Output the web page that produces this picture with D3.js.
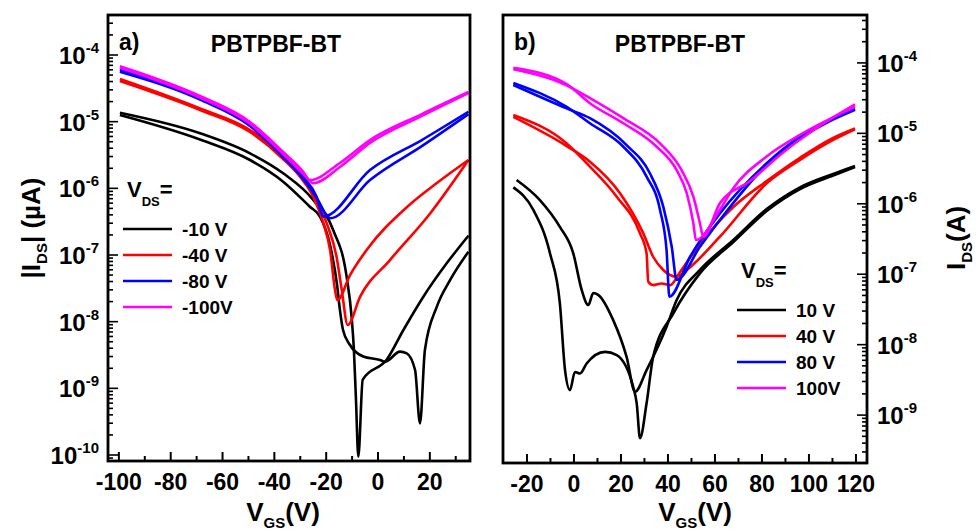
<!DOCTYPE html>
<html>
<head>
<meta charset="utf-8">
<script src="https://cdn.jsdelivr.net/npm/d3@7/dist/d3.min.js"></script>
<style>
body { margin: 0; background: #fff; }
text { font-family: 'Liberation Sans', Arial, sans-serif; font-weight: bold; fill: #000; }
</style>
</head>
<body>
<script>
// ---- panel a) : |I_DS| vs V_GS, negative V_DS (two sweeps per curve) ----
const aBlack1 = [[-99.6,1.36e-5],[-68.7,6.7e-6],[-49.4,3.35e-6],[-36.6,1.68e-6],[-25.0,6.7e-7],[-17.3,2.37e-7],[-12.1,4.7e-8],[-10.2,1.19e-8],[-9.3,3.76e-9],[-8.5,6.7e-10],[-7.6,9.4e-11],[-5.9,1.35e-9],[3.4,2.7e-9],[9.8,7.5e-9],[17.5,2.37e-8],[26.5,7.5e-8],[34.9,1.95e-7]];
const aBlack2 = [[-99.6,1.26e-5],[-68.7,5.4e-6],[-49.4,2.66e-6],[-36.6,1.26e-6],[-26.3,5.3e-7],[-22.4,3.76e-7],[-18.5,1.41e-7],[-15.8,3.55e-8],[-14.7,1.5e-8],[-13.5,7.5e-9],[-10.8,4.47e-9],[-5.7,3.0e-9],[0.8,2.66e-9],[2.7,2.5e-9],[8.5,3.55e-9],[11.1,3.35e-9],[14.3,1.88e-9],[16.2,2.98e-10],[18.1,3.76e-9],[22.7,1.68e-8],[27.8,4.2e-8],[34.9,1.12e-7]];
const aRed1 = [[-99.6,4.37e-5],[-68.7,1.58e-5],[-49.4,7.5e-6],[-36.6,2.99e-6],[-30.1,1.5e-6],[-25.0,7.5e-7],[-21.1,3.0e-7],[-18.5,1.19e-7],[-16.6,3.0e-8],[-15.7,2.1e-8],[-10.8,5.0e-8],[-4.4,1.19e-7],[11.1,5.2e-7],[22.7,1.2e-6],[34.9,2.66e-6]];
const aRed2 = [[-99.6,4.07e-5],[-68.7,1.5e-5],[-49.4,7.0e-6],[-36.6,2.75e-6],[-28.9,1.33e-6],[-23.7,6.7e-7],[-19.8,3.0e-7],[-16.0,9.4e-8],[-14.0,3.0e-8],[-11.7,8.9e-9],[-6.9,2.37e-8],[4.6,8.4e-8],[20.1,4.2e-7],[34.9,2.66e-6]];
const aBlue1 = [[-99.6,5.96e-5],[-68.7,2.26e-5],[-49.4,9.1e-6],[-36.6,3.16e-6],[-28.8,1.48e-6],[-23.7,7.5e-7],[-21.1,3.76e-7],[-3.1,1.88e-6],[16.9,5.3e-6],[34.9,1.41e-5]];
const aBlue2 = [[-99.6,5.6e-5],[-68.7,2.14e-5],[-49.4,8.6e-6],[-36.6,2.95e-6],[-28.8,1.38e-6],[-23.2,6.7e-7],[-20.1,4.1e-7],[-18.5,3.55e-7],[-3.1,1.33e-6],[16.9,4.3e-6],[34.9,1.3e-5]];
const aMag1 = [[-99.6,6.8e-5],[-68.7,2.43e-5],[-49.4,9.9e-6],[-36.6,3.5e-6],[-28.8,1.76e-6],[-26.3,1.33e-6],[-14.7,2.4e-6],[-3.1,5.3e-6],[16.9,1.3e-5],[34.9,2.79e-5]];
const aMag2 = [[-99.6,6.45e-5],[-68.7,2.29e-5],[-49.4,9.3e-6],[-36.6,3.27e-6],[-28.8,1.64e-6],[-24.9,1.19e-6],[-14.7,2.09e-6],[-3.1,4.8e-6],[16.9,1.22e-5],[34.9,2.69e-5]];

// ---- panel b) : I_DS vs V_GS, positive V_DS ----
const bBlack1 = [[-24.4,2.18e-6],[-14.5,1.13e-6],[-6.0,4.7e-7],[-0.3,1.98e-7],[3.3,5.97e-8],[6.1,3.65e-8],[8.2,5.4e-8],[10.3,5.1e-8],[16.7,2.23e-8],[22.4,6.7e-9],[26.0,2.14e-9],[30.9,4.35e-9],[39.4,1.8e-8],[43.7,4.3e-8],[53.6,1.15e-7],[67.8,3.06e-7],[82.0,8.4e-7],[96.2,1.71e-6],[110.3,2.65e-6],[119.6,3.44e-6]];
const bBlack2 = [[-25.8,1.71e-6],[-17.3,8.2e-7],[-10.2,1.98e-7],[-6.0,3.86e-8],[-3.8,4.35e-9],[-1.7,2.26e-9],[0.4,4.1e-9],[2.6,3.9e-9],[5.4,5.4e-9],[13.2,7.9e-9],[18.2,7.1e-9],[25.2,2.52e-9],[26.7,1.47e-9],[28.1,4.7e-10],[30.9,1.47e-9],[33.7,6.7e-9],[42.3,2.79e-8],[53.6,1.03e-7],[67.8,2.86e-7],[82.0,7.9e-7],[96.2,1.62e-6],[110.3,2.52e-6],[119.6,3.33e-6]];
const bRed1 = [[-25.8,1.82e-5],[-3.1,7.2e-6],[6.8,3.37e-6],[18.2,1.26e-6],[28.1,3.8e-7],[30.9,1.98e-7],[31.6,7.8e-8],[33.7,7.0e-8],[37.3,7.4e-8],[40.9,7.0e-8],[45.1,1.07e-7],[53.6,2.69e-7],[67.8,9.0e-7],[82.0,2.1e-6],[96.2,4.5e-6],[110.3,8.6e-6],[119.6,1.17e-5]];
const bRed2 = [[-25.8,1.71e-5],[-3.1,6.6e-6],[6.8,3.96e-6],[19.6,1.41e-6],[29.5,3.8e-7],[33.7,1.77e-7],[38.0,1.15e-7],[43.7,9.2e-8],[48.0,1.15e-7],[62.1,3.41e-7],[82.0,1.95e-6],[96.2,4.2e-6],[110.3,8.05e-6],[119.6,1.14e-5]];
const bBlue1 = [[-25.8,5.2e-5],[-3.1,2.37e-5],[6.8,1.39e-5],[21.0,6.45e-6],[30.9,2.43e-6],[36.6,8.2e-7],[39.4,2.2e-7],[40.6,4.8e-8],[49.4,1.77e-7],[62.1,7.3e-7],[82.0,3.76e-6],[96.2,9.0e-6],[110.3,1.64e-5],[119.6,2.22e-5]];
const bBlue2 = [[-25.8,4.87e-5],[-3.1,2.26e-5],[6.8,1.64e-5],[22.4,6.8e-6],[32.3,2.71e-6],[38.0,9.1e-7],[41.6,2.45e-7],[43.7,8.3e-8],[53.6,2.45e-7],[62.1,5.9e-7],[82.0,3.56e-6],[96.2,8.5e-6],[119.6,2.15e-5]];
const bMag1 = [[-25.8,8.5e-5],[-3.1,5.0e-5],[6.8,2.68e-5],[21.0,1.39e-5],[35.2,6.45e-6],[43.7,3.0e-6],[48.0,1.41e-6],[50.8,5.3e-7],[51.9,3.06e-7],[62.1,8.2e-7],[67.8,1.66e-6],[82.0,4.7e-6],[96.2,9.5e-6],[119.6,2.37e-5]];
const bMag2 = [[-25.8,8.1e-5],[-3.1,4.8e-5],[6.8,3.16e-5],[21.0,1.64e-5],[36.6,7.2e-6],[45.8,3.0e-6],[50.8,1.26e-6],[53.6,5.3e-7],[55.0,3.41e-7],[62.1,1.02e-6],[74.9,2.1e-6],[89.1,5.4e-6],[103.3,1.19e-5],[119.6,2.57e-5]];

const colors = ['#000000', '#ff0000', '#0000ff', '#ff00ff'];
const legendA = ['-10 V', '-40 V', '-80 V', '-100V'];
const legendB = ['10 V', '40 V', '80 V', '100V'];

const svg = d3.select('body').append('svg')
	.attr('width', 977)
	.attr('height', 531);

function drawPanel(p) {
	const x = d3.scaleLinear().domain(p.xDomain).range([p.left, p.right]);
	const y = d3.scaleLog().domain(p.yDomain).range([p.bottom, p.top]);
	const g = svg.append('g');

	// curves
	const line = d3.line()
		.x(d => x(d[0]))
		.y(d => y(d[1]))
		.curve(d3.curveMonotoneX);
	p.series.forEach((branches, i) => {
		branches.forEach(b => {
			g.append('path')
				.attr('d', line(b))
				.attr('fill', 'none')
				.attr('stroke', colors[i])
				.attr('stroke-width', 2.6)
				.attr('stroke-linejoin', 'round');
		});
	});

	// bottom ticks (inward)
	const xTicks = d3.range(p.xTick[0], p.xTick[1] + 1, 10);
	g.selectAll('.xt').data(xTicks).enter().append('line')
		.attr('x1', d => x(d)).attr('x2', d => x(d))
		.attr('y1', p.bottom)
		.attr('y2', d => p.bottom - (d % 20 === 0 ? 9 : 5))
		.attr('stroke', '#000').attr('stroke-width', 2);
	g.selectAll('.xl').data(xTicks.filter(d => d % 20 === 0)).enter().append('text')
		.attr('x', d => x(d))
		.attr('y', p.xLabelY)
		.attr('text-anchor', 'middle')
		.style('font-size', '23px')
		.text(d => d);

	// log y ticks (inward)
	const yt = [];
	const e0 = Math.floor(Math.log10(p.yDomain[0]));
	const e1 = Math.ceil(Math.log10(p.yDomain[1]));
	for (let e = e0; e <= e1; e++) {
		for (let m = 1; m <= 9; m++) {
			const v = m * Math.pow(10, e);
			if (v >= p.yDomain[0] && v <= p.yDomain[1]) yt.push({ v: v, major: m === 1, e: e });
		}
	}
	const ax = p.yRight ? p.right : p.left;
	const dir = p.yRight ? -1 : 1;
	g.selectAll('.yt').data(yt).enter().append('line')
		.attr('x1', ax)
		.attr('x2', d => ax + dir * (d.major ? 10 : 5))
		.attr('y1', d => y(d.v)).attr('y2', d => y(d.v))
		.attr('stroke', '#000').attr('stroke-width', 1.6);
	const yl = g.selectAll('.yl').data(yt.filter(d => d.major)).enter().append('text')
		.attr('x', p.yRight ? p.right + 10 : p.left - 9)
		.attr('y', d => y(d.v) + 9)
		.attr('text-anchor', p.yRight ? 'start' : 'end')
		.style('font-size', '24px');
	yl.append('tspan').text('10');
	yl.append('tspan').attr('dy', -11).style('font-size', '15px').text(d => '-' + Math.abs(d.e));

	// frame
	g.append('rect')
		.attr('x', p.left).attr('y', p.top)
		.attr('width', p.right - p.left).attr('height', p.bottom - p.top)
		.attr('fill', 'none').attr('stroke', '#000').attr('stroke-width', 2.8);

	// panel tag + title
	g.append('text').attr('x', p.left + 11).attr('y', 50).style('font-size', '23px').text(p.tag);
	g.append('text').attr('x', p.titleX).attr('y', 52).attr('text-anchor', 'middle')
		.style('font-size', '23px').text('PBTPBF-BT');

	// x axis title
	const xt = g.append('text').attr('x', p.xTitleX).attr('y', 521)
		.attr('text-anchor', 'middle').style('font-size', '26px');
	xt.append('tspan').text('V');
	xt.append('tspan').attr('dy', 7).style('font-size', '15px').text('GS');
	xt.append('tspan').attr('dy', -7).text('(V)');

	// legend
	const lt = g.append('text').attr('x', p.legX + 4).attr('y', p.legY).style('font-size', '22px');
	lt.append('tspan').text('V');
	lt.append('tspan').attr('dy', 9).style('font-size', '13px').text('DS');
	lt.append('tspan').attr('dy', -9).text('=');
	const rows = g.selectAll('.leg').data(p.legend).enter().append('g')
		.attr('transform', (d, i) => `translate(${p.legX}, ${p.legY + 32 + i * 26})`);
	rows.append('line')
		.attr('x1', 0).attr('x2', 49)
		.attr('stroke', (d, i) => colors[i]).attr('stroke-width', 2.6);
	rows.append('text')
		.attr('x', 59).attr('y', 7)
		.style('font-size', '19px')
		.text(d => d);
}

drawPanel({
	left: 108, right: 470, top: 15, bottom: 461,
	xDomain: [-104.2, 35.5], yDomain: [Math.pow(10, -10.09), Math.pow(10, -3.4)],
	xTick: [-100, 30], xLabelY: 490, yRight: false,
	series: [[aBlack1, aBlack2], [aRed1, aRed2], [aBlue1, aBlue2], [aMag1, aMag2]],
	tag: 'a)', titleX: 276, xTitleX: 283,
	legend: legendA, legX: 123, legY: 197
});

drawPanel({
	left: 503, right: 867, top: 15, bottom: 463,
	xDomain: [-30.2, 124.7], yDomain: [Math.pow(10, -9.68), Math.pow(10, -3.32)],
	xTick: [-20, 120], xLabelY: 492, yRight: true,
	series: [[bBlack1, bBlack2], [bRed1, bRed2], [bBlue1, bBlue2], [bMag1, bMag2]],
	tag: 'b)', titleX: 680, xTitleX: 695,
	legend: legendB, legX: 737, legY: 278
});

// y axis titles
const ya = svg.append('text')
	.attr('transform', 'translate(40, 228) rotate(-90)')
	.attr('text-anchor', 'middle')
	.style('font-size', '26px');
ya.append('tspan').text('|I');
ya.append('tspan').attr('dy', 7).style('font-size', '15px').text('DS');
ya.append('tspan').attr('dy', -7).text('| (\u00b5A)');

const yb = svg.append('text')
	.attr('transform', 'translate(965, 238) rotate(-90)')
	.attr('text-anchor', 'middle')
	.style('font-size', '26px');
yb.append('tspan').text('I');
yb.append('tspan').attr('dy', 7).style('font-size', '15px').text('DS');
yb.append('tspan').attr('dy', -7).text('(A)');
</script>
</body>
</html>
